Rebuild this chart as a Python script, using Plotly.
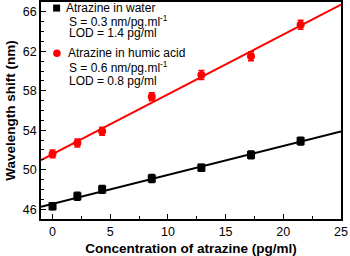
import numpy as np
import plotly.graph_objects as go

# ---- data ----
conc = [0, 2.15, 4.3, 8.6, 12.9, 17.2, 21.5]
water_shift = [46.3, 47.3, 48.0, 49.1, 50.2, 51.5, 52.9]
water_err = [0.35, 0.4, 0.4, 0.4, 0.35, 0.4, 0.4]
humic_shift = [51.6, 52.7, 53.9, 57.4, 59.6, 61.5, 64.7]
humic_err = [0.4, 0.4, 0.4, 0.4, 0.45, 0.45, 0.45]

x_range = [-1, 25]
y_range = [45, 67]
x_ticks = [0, 5, 10, 15, 20, 25]
y_ticks = [46, 50, 54, 58, 62, 66]

legend_lines_water = ["Atrazine in water", "S = 0.3 nm/pg.ml<sup>-1</sup>", "LOD = 1.4 pg/ml"]
legend_lines_humic = ["Atrazine in humic acid", "S = 0.6 nm/pg.ml<sup>-1</sup>", "LOD = 0.8 pg/ml"]

FONT = "Liberation Sans, Arial, sans-serif"
RED = "#ff0000"
BLACK = "#000000"

fig = go.Figure()

# linear fits from the data
xfit = np.array(x_range, dtype=float)
for ys, col in [(water_shift, BLACK), (humic_shift, RED)]:
    k, b = np.polyfit(conc, ys, 1)
    fig.add_trace(go.Scatter(x=xfit, y=k * xfit + b, mode="lines",
                             line=dict(color=col, width=2), showlegend=False,
                             hoverinfo="skip"))

fig.add_trace(go.Scatter(x=conc, y=water_shift, mode="markers",
                         marker=dict(symbol="square", size=8, color=BLACK),
                         error_y=dict(type="data", array=water_err, color=BLACK,
                                      thickness=1.5, width=3),
                         showlegend=False))
fig.add_trace(go.Scatter(x=conc, y=humic_shift, mode="markers",
                         marker=dict(symbol="circle", size=8, color=RED),
                         error_y=dict(type="data", array=humic_err, color=RED,
                                      thickness=1.5, width=3),
                         showlegend=False))

# legend keys (layout shapes, paper coordinates)
shapes = [
    dict(type="rect", xref="paper", yref="paper", xsizemode="pixel", ysizemode="pixel",
         xanchor=0.052, yanchor=0.972, x0=-3.5, x1=3.5, y0=-3.5, y1=3.5,
         fillcolor=BLACK, line=dict(width=0)),
    dict(type="circle", xref="paper", yref="paper", xsizemode="pixel", ysizemode="pixel",
         xanchor=0.053, yanchor=0.764, x0=-3.8, x1=3.8, y0=-3.8, y1=3.8,
         fillcolor=RED, line=dict(width=0)),
]

ann = []
pos_w = [(0.076, 0.972), (0.086, 0.912), (0.086, 0.856)]
pos_h = [(0.083, 0.764), (0.086, 0.699), (0.086, 0.637)]
for lines, pos in [(legend_lines_water, pos_w), (legend_lines_humic, pos_h)]:
    for t, (px, py) in zip(lines, pos):
        ann.append(dict(text=t, x=px, y=py, xref="paper", yref="paper",
                        xanchor="left", yanchor="middle", showarrow=False,
                        font=dict(family=FONT, size=12, color=BLACK)))

fig.update_layout(
    width=350, height=256,
    margin=dict(l=41, r=9, t=2, b=37),
    paper_bgcolor="white", plot_bgcolor="white",
    font=dict(family=FONT, color=BLACK),
    shapes=shapes, annotations=ann, showlegend=False,
)
fig.update_xaxes(range=x_range, tickvals=x_ticks, ticks="inside", ticklen=5, tickwidth=1.2,
                 tickcolor=BLACK, showline=True, linecolor=BLACK, linewidth=1.5, mirror=True,
                 showgrid=False, zeroline=False, automargin=False,
                 tickfont=dict(family=FONT, size=12.5, color=BLACK),
                 minor=dict(dtick=2.5, tick0=0, ticks="inside", ticklen=3, tickcolor=BLACK, showgrid=False),
                 title=dict(text="<b>Concentration of atrazine (pg/ml)</b>", standoff=6,
                            font=dict(family=FONT, size=13.5, color=BLACK)))
fig.update_yaxes(range=y_range, tickvals=y_ticks, ticks="inside", ticklen=5, tickwidth=1.2,
                 tickcolor=BLACK, showline=True, linecolor=BLACK, linewidth=1.5, mirror=True,
                 showgrid=False, zeroline=False, automargin=False,
                 tickfont=dict(family=FONT, size=12.5, color=BLACK),
                 minor=dict(dtick=1, tick0=46, ticks="inside", ticklen=3, tickcolor=BLACK, showgrid=False),
                 title=dict(text="<b>Wavelength shift (nm)</b>", standoff=4,
                            font=dict(family=FONT, size=13.5, color=BLACK)))

fig.write_html("out.html", config={"displayModeBar": False},
               post_script="document.body.style.margin='0';document.body.style.overflow='hidden';")
